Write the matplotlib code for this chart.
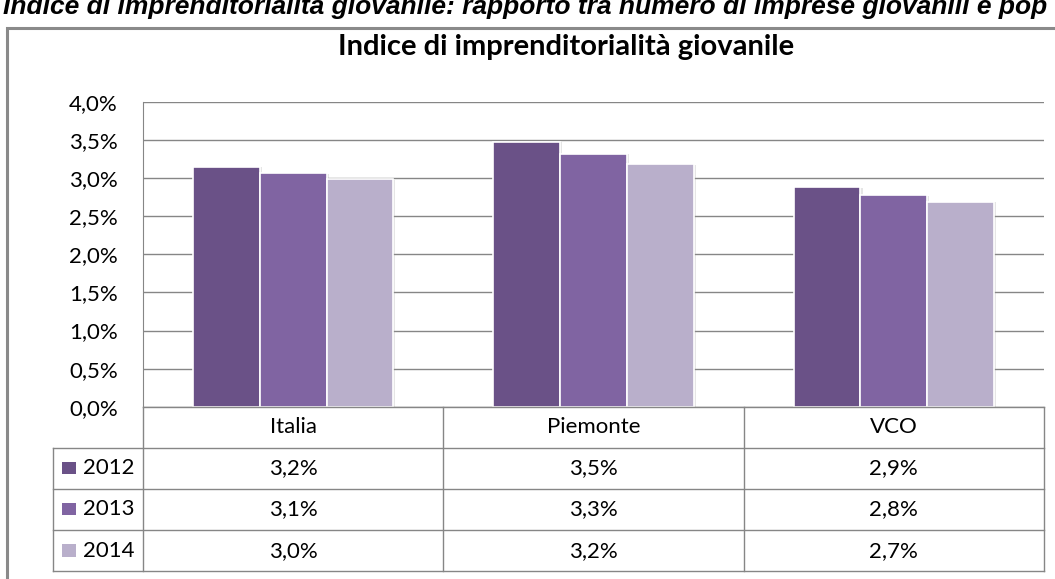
import matplotlib
matplotlib.use("Agg")
import matplotlib.pyplot as plt
import matplotlib.transforms as mtrans
from matplotlib.lines import Line2D
from matplotlib.patches import Rectangle
import matplotlib.patheffects as pe
import numpy as np

# ---- data ----
categories = ["Italia", "Piemonte", "VCO"]
years = ["2012", "2013", "2014"]
values_2012 = [3.15, 3.48, 2.88]
values_2013 = [3.07, 3.32, 2.78]
values_2014 = [2.99, 3.18, 2.69]
labels_2012 = ["3,2%", "3,5%", "2,9%"]
labels_2013 = ["3,1%", "3,3%", "2,8%"]
labels_2014 = ["3,0%", "3,2%", "2,7%"]
yticks = [0.0, 0.5, 1.0, 1.5, 2.0, 2.5, 3.0, 3.5, 4.0]
ytick_labels = ["0,0%", "0,5%", "1,0%", "1,5%", "2,0%", "2,5%", "3,0%", "3,5%", "4,0%"]
title = "Indice di imprenditorialità giovanile"
heading = "Indice di imprenditorialità giovanile: rapporto tra numero di imprese giovanili e pop"
colors = ["#6a5187", "#8064a2", "#b9afcb"]

series = [values_2012, values_2013, values_2014]
series_labels = [labels_2012, labels_2013, labels_2014]

W, H = 1055, 579
fig = plt.figure(figsize=(W / 100, H / 100), dpi=100)
FONT = "Lato"
FS = 16
GRID = "#868686"

def fx(px):
    return px / W

def fy(py):
    return 1 - py / H

ax_left, ax_right, ax_top, ax_bot = 143, 1044, 102, 406.7
ax = fig.add_axes([fx(ax_left), fy(ax_bot), fx(ax_right - ax_left), (ax_bot - ax_top) / H])

x = np.arange(len(categories))
bw = 1 / 4.5
shadow = [pe.SimplePatchShadow(offset=(1.5, -0.5), shadow_rgbFace="#999999", alpha=0.25), pe.Normal()]
for i, vals in enumerate(series):
    ax.bar(x + (i - 1) * bw, vals, width=bw, color=colors[i], edgecolor="white",
           linewidth=1.2, zorder=3, path_effects=shadow)

ax.set_xlim(-0.5, len(categories) - 0.5)
ax.set_ylim(0, 4.0)
ax.set_yticks(yticks)
ax.set_yticklabels(ytick_labels, fontsize=FS, family=FONT)
ax.tick_params(axis="y", length=0, pad=18)
ax.set_xticks([])
ax.yaxis.grid(True, color=GRID, linewidth=1)
ax.set_axisbelow(True)
for s in ["top", "right", "bottom"]:
    ax.spines[s].set_visible(False)
ax.spines["left"].set_color(GRID)

# title
fig.text(fx(566), fy(47), title, ha="center", va="center", fontsize=21,
         family=FONT, fontweight="bold")

# cut-off heading at the very top
fig.text(fx(3), fy(14), heading, ha="left", va="baseline", fontsize=19,
         family="Liberation Sans", fontweight="bold", fontstyle="italic")

# outer frame
fig.add_artist(Rectangle((fx(7), fy(H + 20)), fx(W + 40), (H + 20 - 28) / H,
                         transform=fig.transFigure, fill=False, edgecolor="#8a8a8a",
                         linewidth=2.2))

# ---- data table ----
bt = mtrans.blended_transform_factory(ax.transData, fig.transFigure)
row_y = [406.7, 447.5, 488.7, 530, 571.2]
leg_left = 52.7
fig.add_artist(Line2D([fx(ax_left), fx(ax_right)], [fy(row_y[0])] * 2, color=GRID, lw=1,
                      transform=fig.transFigure))
for yy in row_y[1:]:
    fig.add_artist(Line2D([fx(leg_left), fx(ax_right)], [fy(yy)] * 2, color=GRID, lw=1,
                          transform=fig.transFigure))
fig.add_artist(Line2D([fx(leg_left)] * 2, [fy(row_y[1]), fy(row_y[-1])], color=GRID, lw=1,
                      transform=fig.transFigure))
for b in np.arange(len(categories) + 1) - 0.5:
    fig.add_artist(Line2D([b, b], [fy(row_y[0]), fy(row_y[-1])], color=GRID, lw=1,
                          transform=bt))

for xi, c in zip(x, categories):
    fig.text(xi, fy((row_y[0] + row_y[1]) / 2), c, transform=bt, ha="center", va="center",
             fontsize=FS, family=FONT)
for r, (yr, labs) in enumerate(zip(years, series_labels)):
    yc = (row_y[r + 1] + row_y[r + 2]) / 2
    fig.add_artist(Rectangle((fx(62), fy(yc + 6)), fx(13.5), 12.5 / H, transform=fig.transFigure,
                             facecolor=colors[r], edgecolor="none"))
    fig.text(fx(83), fy(yc), yr, ha="left", va="center", fontsize=FS, family=FONT)
    for xi, lab in zip(x, labs):
        fig.text(xi, fy(yc), lab, transform=bt, ha="center", va="center", fontsize=FS,
                 family=FONT)

fig.savefig("out.png", dpi=100, facecolor="white")
